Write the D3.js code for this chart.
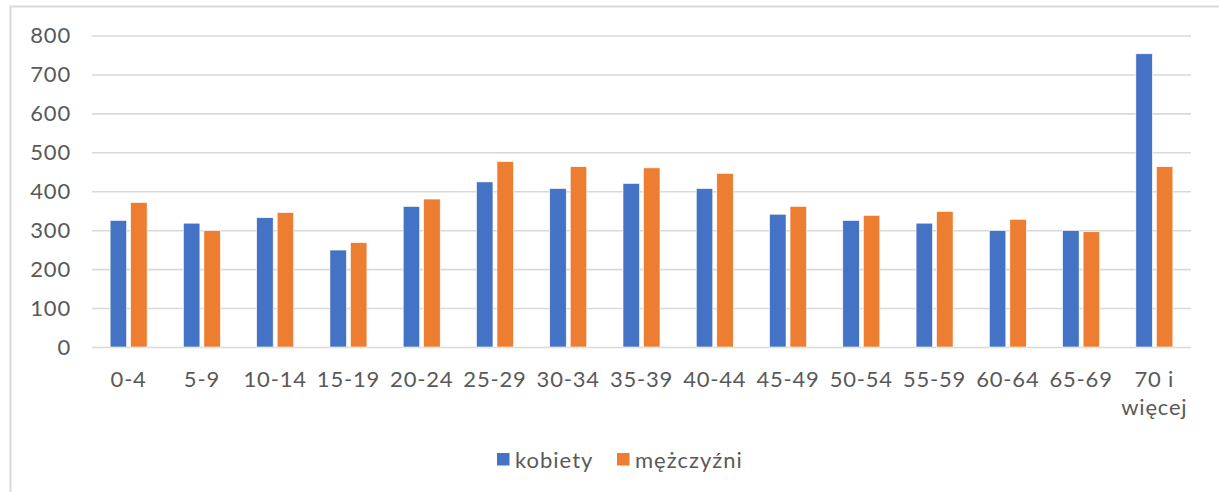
<!DOCTYPE html>
<html>
<head>
<meta charset="utf-8">
<script src="https://cdn.jsdelivr.net/npm/d3@7"></script>
<style>
  body { margin: 0; background: #fff; }
  text { font-family: Lato, "Open Sans", sans-serif; fill: #595959; letter-spacing: 0.8px; }
</style>
</head>
<body>
<div id="chart"></div>
<script>
// age groups and the two series
var categories = ["0-4", "5-9", "10-14", "15-19", "20-24", "25-29", "30-34", "35-39",
                  "40-44", "45-49", "50-54", "55-59", "60-64", "65-69", "70 i więcej"];
var kobiety    = [325, 318, 332, 249, 361, 424, 407, 420, 407, 341, 325, 318, 299, 299, 753];
var mezczyzni  = [371, 299, 345, 268, 380, 476, 463, 460, 446, 361, 338, 348, 328, 296, 463];
var seriesNames = ["kobiety", "mężczyźni"];
var yTicks = [0, 100, 200, 300, 400, 500, 600, 700, 800];

var colors = {"kobiety": "#4472c4", "mężczyźni": "#ed7d31"};

var width = 1219, height = 492;
var plot = {left: 92, right: 1191, top: 35.5, bottom: 347};

var svg = d3.select("#chart").append("svg")
    .attr("width", width)
    .attr("height", height);

// chart frame (runs off the right and bottom edge like the screenshot)
svg.append("rect")
    .attr("x", 10.5).attr("y", 6.5)
    .attr("width", 1240).attr("height", 520)
    .style("fill", "#fff")
    .style("stroke", "#d9d9d9")
    .style("stroke-width", 2);

var y_scale = d3.scaleLinear()
    .domain([0, 800])
    .range([plot.bottom, plot.top]);

var x_scale = d3.scaleBand()
    .domain(categories)
    .range([plot.left, plot.right]);

// pair of bars sits in the middle of each band
var pairW = 37;
var x_inner = d3.scaleBand()
    .domain(seriesNames)
    .range([(x_scale.bandwidth() - pairW) / 2, (x_scale.bandwidth() + pairW) / 2])
    .paddingInner(0.195);

// y axis + gridlines
var yAxis = svg.append("g")
    .attr("transform", "translate(" + plot.left + ",0)")
    .call(d3.axisLeft(y_scale)
        .tickValues(yTicks)
        .tickSize(-(plot.right - plot.left))
        .tickPadding(21));
yAxis.select(".domain").remove();
yAxis.selectAll(".tick line")
    .style("stroke", "#d9d9d9")
    .style("stroke-width", 1.6);
yAxis.selectAll(".tick text")
    .style("font-size", "22px")
    .style("font-family", "Lato, sans-serif")
    .style("fill", "#595959");

// bars
var rows = categories.map(function(c, i) {
  return {cat: c, values: [{s: "kobiety", v: kobiety[i]}, {s: "mężczyźni", v: mezczyzni[i]}]};
});

var groups = svg.selectAll(".grp")
    .data(rows)
  .enter().append("g")
    .attr("class", "grp")
    .attr("transform", function(d) { return "translate(" + x_scale(d.cat) + ",0)"; });

groups.selectAll("rect")
    .data(function(d) { return d.values; })
  .enter().append("rect")
    .attr("x", function(d) { return x_inner(d.s); })
    .attr("y", function(d) { return y_scale(d.v); })
    .attr("width", x_inner.bandwidth())
    .attr("height", function(d) { return plot.bottom - y_scale(d.v); })
    .style("fill", function(d) { return colors[d.s]; })
    .style("stroke", "#fff")
    .style("stroke-width", 0.6);

// x axis labels
var xAxis = svg.append("g")
    .attr("transform", "translate(0," + plot.bottom + ")")
    .call(d3.axisBottom(x_scale).tickSize(0).tickFormat(""));
xAxis.select(".domain").remove();

xAxis.selectAll(".tick").each(function(c) {
  var lines = c === "70 i więcej" ? ["70 i", "więcej"] : [c];
  var t = d3.select(this).select("text")
      .attr("y", 0).attr("dy", null)
      .style("font-size", "22px")
      .style("font-family", "Lato, sans-serif")
      .style("fill", "#595959");
  lines.forEach(function(l, k) {
    t.append("tspan")
      .attr("x", 0)
      .attr("y", 40 + k * 28)
      .text(l);
  });
});

// legend
var legend = svg.append("g").attr("class", "legend");
var legendX = [497, 617];
seriesNames.forEach(function(s, i) {
  legend.append("rect")
    .attr("x", legendX[i]).attr("y", 453)
    .attr("width", 12.5).attr("height", 12.5)
    .style("fill", colors[s]);
  legend.append("text")
    .attr("x", legendX[i] + 18).attr("y", 468)
    .style("font-size", "22px")
    .style("letter-spacing", "1px")
    .text(s);
});
</script>
</body>
</html>
